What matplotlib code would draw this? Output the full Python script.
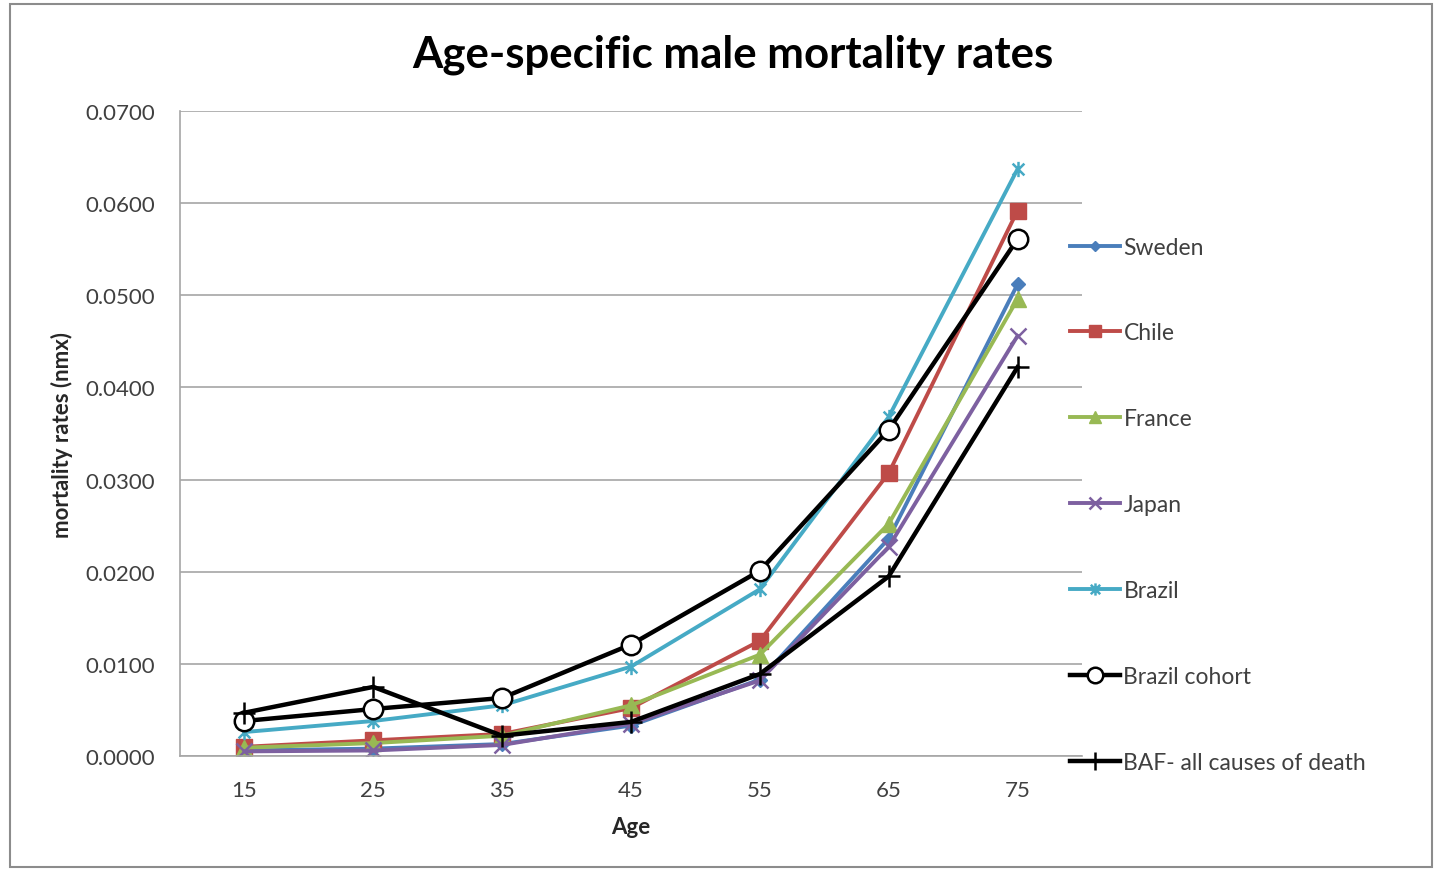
import matplotlib.pyplot as plt
import numpy as np
from matplotlib.path import Path
from matplotlib.patches import Rectangle

plt.rcParams['font.family'] = ['Lato', 'DejaVu Sans']

ages = [15, 25, 35, 45, 55, 65, 75]

sweden = [0.0006, 0.0008, 0.0013, 0.0033, 0.0083, 0.0236, 0.0512]
chile = [0.0010, 0.0017, 0.0024, 0.0052, 0.0125, 0.0307, 0.0592]
france = [0.0009, 0.0014, 0.0022, 0.0055, 0.0110, 0.0252, 0.0496]
japan = [0.0005, 0.0006, 0.0012, 0.0035, 0.0082, 0.0227, 0.0456]
brazil = [0.0026, 0.0038, 0.0055, 0.0097, 0.0181, 0.0368, 0.0637]
brazil_cohort = [0.0038, 0.0051, 0.0063, 0.0121, 0.0201, 0.0354, 0.0561]
baf = [0.0047, 0.0075, 0.0022, 0.0037, 0.0089, 0.0195, 0.0422]

y_ticks = [0.0, 0.01, 0.02, 0.03, 0.04, 0.05, 0.06, 0.07]

# estrela do Excel: x com traço vertical
star = Path([(-1, -1), (1, 1), (-1, 1), (1, -1), (0, -1.3), (0, 1.3)],
            [Path.MOVETO, Path.LINETO, Path.MOVETO, Path.LINETO, Path.MOVETO, Path.LINETO])

fig = plt.figure(figsize=(14.38, 8.70), dpi=100)
ax = fig.add_axes([180 / 1438, 1 - 757 / 870, 902 / 1438, 645 / 870])

# moldura externa
fig.patches.append(Rectangle((10 / 1438, 2 / 870), 1422 / 1438, 863 / 870,
                             transform=fig.transFigure, fill=False,
                             edgecolor='#8c8c8c', linewidth=1.5))

ax.plot(ages, sweden, color='#4A7EBB', lw=2.8, marker='D', ms=7, label='Sweden')
ax.plot(ages, chile, color='#BE4B48', lw=2.8, marker='s', ms=11, label='Chile')
ax.plot(ages, france, color='#98B954', lw=2.8, marker='^', ms=11, label='France')
ax.plot(ages, japan, color='#7D60A0', lw=2.8, marker='x', ms=11, mew=1.8, label='Japan')
ax.plot(ages, brazil, color='#46AAC5', lw=2.8, marker=star, ms=11, mew=1.8, label='Brazil')
ax.plot(ages, brazil_cohort, color='black', lw=3.2, marker='o', ms=14,
        mfc='white', mec='black', mew=1.8, label='Brazil cohort')
ax.plot(ages, baf, color='black', lw=3.2, marker='+', ms=16, mew=1.8,
        label='BAF- all causes of death')

ax.set_xlim(10, 80)
ax.set_ylim(0, 0.07)
ax.set_xticks(ages)
ax.set_yticks(y_ticks)
ax.set_yticklabels([f'{v:.4f}' for v in y_ticks])
ax.tick_params(length=0, labelsize=16, colors='#404040')
ax.tick_params(axis='x', pad=17)
ax.tick_params(axis='y', pad=18)
ax.grid(axis='y', color='#a6a6a6', lw=1.2)
ax.set_axisbelow(True)
for s in ['top', 'right']:
    ax.spines[s].set_visible(False)
for s in ['left', 'bottom']:
    ax.spines[s].set_color('#a6a6a6')
    ax.spines[s].set_linewidth(1.2)

ax.set_xlabel('Age', fontsize=16, fontweight='bold', color='#262626', labelpad=12)
ax.set_ylabel('mortality rates (nmx)', fontsize=16, fontweight='bold', color='#262626', labelpad=9)
fig.text(733 / 1438, 1 - 55 / 870, 'Age-specific male mortality rates', ha='center', va='center',
         fontsize=31.5, fontweight='bold')

leg = fig.legend(loc='upper left', bbox_to_anchor=(1049 / 1438, 1 - 217 / 870), frameon=False,
                 fontsize=16.5, labelspacing=2.83, handlelength=2.2, handletextpad=0.15,
                 labelcolor='#404040')
for h in leg.legend_handles:
    h.set_markersize(h.get_markersize() * 0.8)

fig.savefig('out.png', dpi=100)
